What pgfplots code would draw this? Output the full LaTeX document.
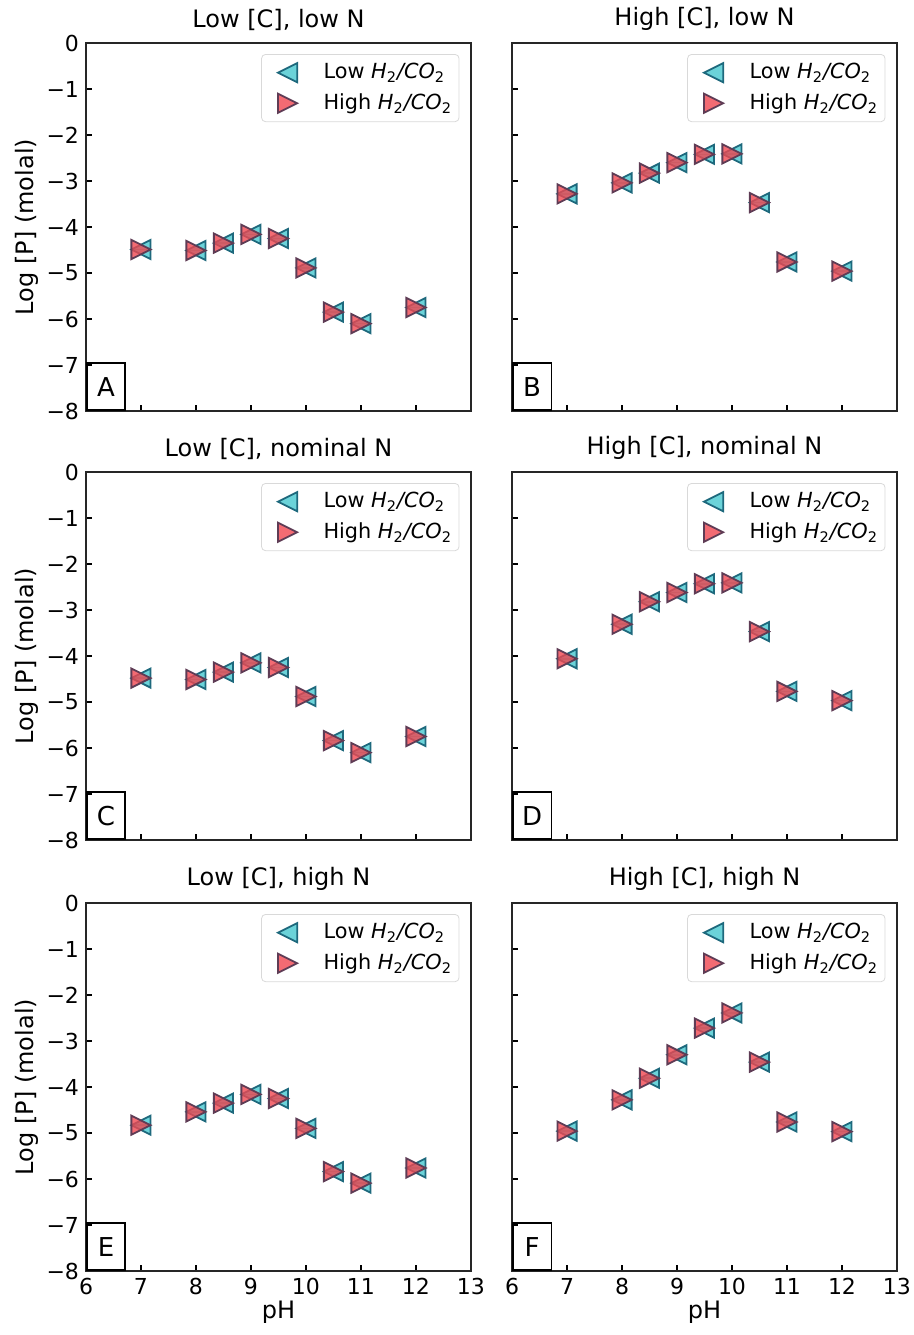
\documentclass[border=0pt]{standalone}
\usepackage{fontspec}
\setmainfont{DejaVu Sans}
\usepackage{pgfplots}
\pgfplotsset{compat=1.18}
\usepackage{pgfplotstable}

\definecolor{lowfill}{RGB}{70,200,208}
\definecolor{lowedge}{RGB}{30,105,125}
\definecolor{highfill}{RGB}{240,70,80}
\definecolor{highedge}{RGB}{95,60,85}

% matplotlib-like '<' and '>' triangles (tip and base at the same distance)
\pgfdeclareplotmark{tleft}{%
  \pgfpathmoveto{\pgfqpoint{-\pgfplotmarksize}{0pt}}%
  \pgfpathlineto{\pgfqpoint{\pgfplotmarksize}{\pgfplotmarksize}}%
  \pgfpathlineto{\pgfqpoint{\pgfplotmarksize}{-\pgfplotmarksize}}%
  \pgfpathclose
  \pgfusepathqfillstroke}
\pgfdeclareplotmark{tright}{%
  \pgfpathmoveto{\pgfqpoint{\pgfplotmarksize}{0pt}}%
  \pgfpathlineto{\pgfqpoint{-\pgfplotmarksize}{\pgfplotmarksize}}%
  \pgfpathlineto{\pgfqpoint{-\pgfplotmarksize}{-\pgfplotmarksize}}%
  \pgfpathclose
  \pgfusepathqfillstroke}

% one table per panel: pH, low H2/CO2, high H2/CO2
\pgfplotstableread{
ph   low   high
7    -4.49 -4.49
8    -4.51 -4.51
8.5  -4.35 -4.35
9    -4.16 -4.16
9.5  -4.25 -4.25
10   -4.89 -4.89
10.5 -5.85 -5.85
11   -6.10 -6.10
12   -5.75 -5.75
}\tabA
\pgfplotstableread{
ph   low   high
7    -3.28 -3.28
8    -3.04 -3.04
8.5  -2.83 -2.83
9    -2.60 -2.60
9.5  -2.42 -2.42
10   -2.41 -2.41
10.5 -3.47 -3.47
11   -4.76 -4.76
12   -4.96 -4.96
}\tabB
\pgfplotstableread{
ph   low   high
7    -4.48 -4.48
8    -4.51 -4.51
8.5  -4.35 -4.35
9    -4.15 -4.15
9.5  -4.25 -4.25
10   -4.88 -4.88
10.5 -5.84 -5.84
11   -6.10 -6.10
12   -5.75 -5.75
}\tabC
\pgfplotstableread{
ph   low   high
7    -4.06 -4.06
8    -3.31 -3.31
8.5  -2.82 -2.82
9    -2.62 -2.62
9.5  -2.43 -2.43
10   -2.41 -2.41
10.5 -3.47 -3.47
11   -4.77 -4.77
12   -4.97 -4.97
}\tabD
\pgfplotstableread{
ph   low   high
7    -4.83 -4.83
8    -4.54 -4.54
8.5  -4.35 -4.35
9    -4.16 -4.16
9.5  -4.25 -4.25
10   -4.90 -4.90
10.5 -5.84 -5.84
11   -6.09 -6.09
12   -5.76 -5.76
}\tabE
\pgfplotstableread{
ph   low   high
7    -4.96 -4.96
8    -4.28 -4.28
8.5  -3.81 -3.81
9    -3.30 -3.30
9.5  -2.72 -2.72
10   -2.39 -2.39
10.5 -3.46 -3.46
11   -4.76 -4.76
12   -4.97 -4.97
}\tabF

\pgfplotsset{
  panel/.style={
    scale only axis, width=192.5pt, height=184pt,
    xmin=6, xmax=13, ymin=-8, ymax=0,
    xtick={6,...,13}, ytick={-8,...,0},
    xticklabels={}, yticklabels={},
    tick align=inside, xtick pos=bottom, ytick pos=left,
    major tick length=3pt,
    every tick/.style={black, line width=0.6pt},
    axis line style={line width=0.7pt, black!85},
    tick label style={font=\fontsize{11}{13}\selectfont},
    label style={font=\fontsize{12}{14}\selectfont},
    title style={font=\fontsize{12}{14}\selectfont, yshift=-3.5pt},
    legend cell align=left,
    legend style={at={(0.97,0.97)}, anchor=north east, draw=black!15,
      rounded corners=2pt, font=\fontsize{10.4}{12.5}\selectfont,
      inner xsep=2pt, inner ysep=3pt, row sep=3pt,
      nodes={inner sep=1.5pt}},
    legend image code/.code={%
      \path[draw=none, fill=none] (-11pt,0pt) -- (16.5pt,0pt);
      \draw[#1] plot coordinates {(0pt,0pt)};},
  },
  xlab/.style={
    xticklabels={6,7,8,9,10,11,12,13},
    xlabel={pH},
    xlabel style={at={(axis description cs:0.5,-0.111)}, anchor=center},
  },
  ylab/.style={
    yticklabels={−8,−7,−6,−5,−4,−3,−2,−1,0},
    ylabel={Log [P] (molal)},
    ylabel style={at={(axis description cs:-0.153,0.5)}, anchor=center},
  },
  lowp/.style={only marks, mark=tleft, mark size=4.8pt,
    mark options={fill=lowfill, draw=lowedge, fill opacity=0.8, line width=0.9pt},
    error bars/.cd, x dir=both, x fixed=0.17, error mark=none,
    error bar style={draw=black!70, line width=0.8pt}},
  highp/.style={only marks, mark=tright, mark size=4.8pt,
    mark options={fill=highfill, draw=highedge, fill opacity=0.8, line width=0.9pt},
    error bars/.cd, x dir=both, x fixed=0.17, error mark=none,
    error bar style={draw=black!70, line width=0.8pt}},
}

\newcommand{\panellabel}[1]{%
  \node[draw=black, line width=0.8pt, anchor=south west, minimum width=19.25pt,
    minimum height=23.5pt, inner sep=0pt, font=\fontsize{13}{15}\selectfont]
    at (rel axis cs:0,0) {#1};}
\newcommand{\lowtxt}{Low \textit{H}\textsubscript{2}\textit{/CO}\textsubscript{2}}
\newcommand{\hightxt}{High \textit{H}\textsubscript{2}\textit{/CO}\textsubscript{2}}

\begin{document}
\begin{tikzpicture}
\path[use as bounding box] (0,0) rectangle (457pt,667.5pt);

% row 1
\begin{axis}[panel, ylab, at={(43pt,462pt)}, anchor=south west, title={Low [C], low N}]
\addplot[lowp] table[x=ph, y=low] {\tabA};
\addplot[highp] table[x=ph, y=high] {\tabA};
\legend{\lowtxt, \hightxt}
\panellabel{A}
\end{axis}
\begin{axis}[panel, at={(256pt,462pt)}, anchor=south west, title={High [C], low N}]
\addplot[lowp] table[x=ph, y=low] {\tabB};
\addplot[highp] table[x=ph, y=high] {\tabB};
\legend{\lowtxt, \hightxt}
\panellabel{B}
\end{axis}

% row 2
\begin{axis}[panel, ylab, at={(43pt,247.5pt)}, anchor=south west, title={Low [C], nominal N}]
\addplot[lowp] table[x=ph, y=low] {\tabC};
\addplot[highp] table[x=ph, y=high] {\tabC};
\legend{\lowtxt, \hightxt}
\panellabel{C}
\end{axis}
\begin{axis}[panel, at={(256pt,247.5pt)}, anchor=south west, title={High [C], nominal N}]
\addplot[lowp] table[x=ph, y=low] {\tabD};
\addplot[highp] table[x=ph, y=high] {\tabD};
\legend{\lowtxt, \hightxt}
\panellabel{D}
\end{axis}

% row 3
\begin{axis}[panel, ylab, xlab, at={(43pt,32pt)}, anchor=south west, title={Low [C], high N}]
\addplot[lowp] table[x=ph, y=low] {\tabE};
\addplot[highp] table[x=ph, y=high] {\tabE};
\legend{\lowtxt, \hightxt}
\panellabel{E}
\end{axis}
\begin{axis}[panel, xlab, at={(256pt,32pt)}, anchor=south west, title={High [C], high N}]
\addplot[lowp] table[x=ph, y=low] {\tabF};
\addplot[highp] table[x=ph, y=high] {\tabF};
\legend{\lowtxt, \hightxt}
\panellabel{F}
\end{axis}
\end{tikzpicture}
\end{document}
